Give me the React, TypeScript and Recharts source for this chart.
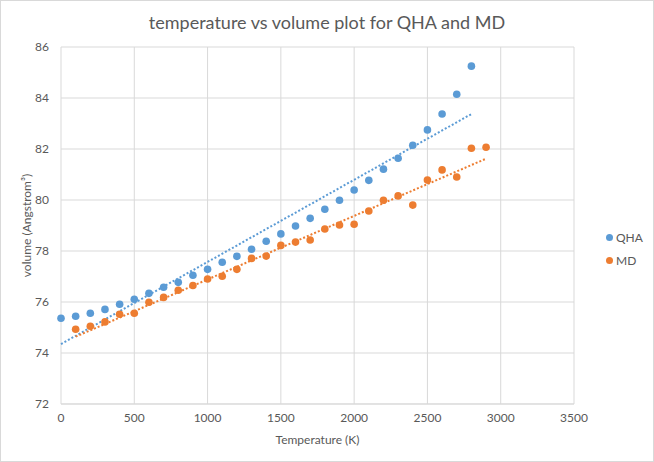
import React from 'react';
import { ScatterChart, Scatter, XAxis, YAxis, CartesianGrid, Legend } from 'recharts';

const qhaTemps = [0, 100, 200, 300, 400, 500, 600, 700, 800, 900, 1000, 1100, 1200, 1300, 1400, 1500, 1600, 1700, 1800, 1900, 2000, 2100, 2200, 2300, 2400, 2500, 2600, 2700, 2800];
const qhaVolumes = [75.36, 75.44, 75.56, 75.71, 75.91, 76.11, 76.34, 76.58, 76.77, 77.05, 77.28, 77.56, 77.79, 78.07, 78.38, 78.67, 78.98, 79.28, 79.64, 79.99, 80.39, 80.77, 81.21, 81.64, 82.15, 82.75, 83.37, 84.15, 85.25];

const mdTemps = [100, 200, 300, 400, 500, 600, 700, 800, 900, 1000, 1100, 1200, 1300, 1400, 1500, 1600, 1700, 1800, 1900, 2000, 2100, 2200, 2300, 2400, 2500, 2600, 2700, 2800, 2900];
const mdVolumes = [74.93, 75.05, 75.22, 75.52, 75.56, 75.99, 76.18, 76.46, 76.65, 76.9, 77.01, 77.28, 77.71, 77.8, 78.22, 78.35, 78.43, 78.86, 79.02, 79.05, 79.57, 79.99, 80.16, 79.8, 80.78, 81.18, 80.9, 82.03, 82.07];

// Linear trendline end points
const qhaTrendTemps = [0, 2800];
const qhaTrendVolumes = [74.35, 83.37];
const mdTrendTemps = [100, 2900];
const mdTrendVolumes = [74.64, 81.62];

const xTicks = [0, 500, 1000, 1500, 2000, 2500, 3000, 3500];
const yTicks = [72, 74, 76, 78, 80, 82, 84, 86];

const seriesNames = ['QHA', 'MD'];
const BLUE = '#5B9BD5';
const ORANGE = '#ED7D31';
const TEXT = '#595959';
const GRID = '#d9d9d9';
const FONT = 'Lato, sans-serif';

const zip = (xs: number[], ys: number[]) => xs.map((x, i) => ({ x, y: ys[i] }));

const qhaData = zip(qhaTemps, qhaVolumes);
const mdData = zip(mdTemps, mdVolumes);
const qhaTrend = zip(qhaTrendTemps, qhaTrendVolumes);
const mdTrend = zip(mdTrendTemps, mdTrendVolumes);

const Dot = (color: string) => (props: any) => {
  const { cx, cy } = props;
  if (cx == null || cy == null) return <g />;
  return <circle cx={cx} cy={cy} r={3.8} fill={color} stroke="none" />;
};
const NoShape = () => <g />;

const LegendContent = () => (
  <div style={{ fontFamily: FONT, fontSize: 12, color: TEXT }}>
    {seriesNames.map((name, i) => (
      <div key={name} style={{ display: 'flex', alignItems: 'center', height: 23 }}>
        <span
          style={{
            display: 'inline-block',
            width: 7,
            height: 7,
            borderRadius: '50%',
            background: i === 0 ? BLUE : ORANGE,
            marginRight: 3,
          }}
        />
        <span>{name}</span>
      </div>
    ))}
  </div>
);

export default function App() {
  return (
    <div style={{ position: 'absolute', left: 0, top: 0, width: 654, height: 462, background: '#fff' }}>
      <div
        style={{
          position: 'absolute',
          left: 0,
          top: 9,
          width: 654,
          textAlign: 'center',
          fontFamily: FONT,
          fontSize: 18,
          color: TEXT,
          lineHeight: '26px',
        }}
      >
        temperature vs volume plot for QHA and MD
      </div>
      <div style={{ position: 'absolute', left: 0, top: 0 }}>
        <ScatterChart width={654} height={462} margin={{ top: 47, right: 80, bottom: 0, left: 0 }}>
          <CartesianGrid stroke={GRID} strokeWidth={1} />
          <XAxis
            type="number"
            dataKey="x"
            domain={[0, 3500]}
            ticks={xTicks}
            interval={0}
            height={58}
            axisLine={{ stroke: GRID }}
            tickLine={false}
            tickMargin={3}
            tick={{ fill: TEXT, fontSize: 12, fontFamily: FONT }}
            label={{ value: 'Temperature (K)', position: 'center', dy: 7, fill: TEXT, fontSize: 12, fontFamily: FONT }}
          />
          <YAxis
            type="number"
            dataKey="y"
            domain={[72, 86]}
            ticks={yTicks}
            interval={0}
            width={61}
            axisLine={false}
            tickLine={false}
            tickMargin={6}
            tick={{ fill: TEXT, fontSize: 12, fontFamily: FONT }}
            label={{ value: 'volume (Angstrom³)', angle: -90, position: 'center', dx: -4, fill: TEXT, fontSize: 12, fontFamily: FONT }}
          />
          <Scatter
            name="QHA trend"
            data={qhaTrend}
            shape={NoShape}
            line={{ stroke: BLUE, strokeWidth: 2, strokeDasharray: '2 2' }}
            legendType="none"
            isAnimationActive={false}
          />
          <Scatter
            name="MD trend"
            data={mdTrend}
            shape={NoShape}
            line={{ stroke: ORANGE, strokeWidth: 2, strokeDasharray: '2 2' }}
            legendType="none"
            isAnimationActive={false}
          />
          <Scatter name="QHA" data={qhaData} shape={Dot(BLUE)} fill={BLUE} isAnimationActive={false} />
          <Scatter name="MD" data={mdData} shape={Dot(ORANGE)} fill={ORANGE} isAnimationActive={false} />
          <Legend
            layout="vertical"
            align="center"
            verticalAlign="middle"
            content={LegendContent}
            wrapperStyle={{ left: 606, top: 226, width: 48, height: 46 }}
          />
        </ScatterChart>
      </div>
      <div
        style={{
          position: 'absolute',
          left: 0,
          top: 0,
          width: 654,
          height: 462,
          boxSizing: 'border-box',
          border: '1px solid #d9d9d9',
          pointerEvents: 'none',
        }}
      />
    </div>
  );
}
